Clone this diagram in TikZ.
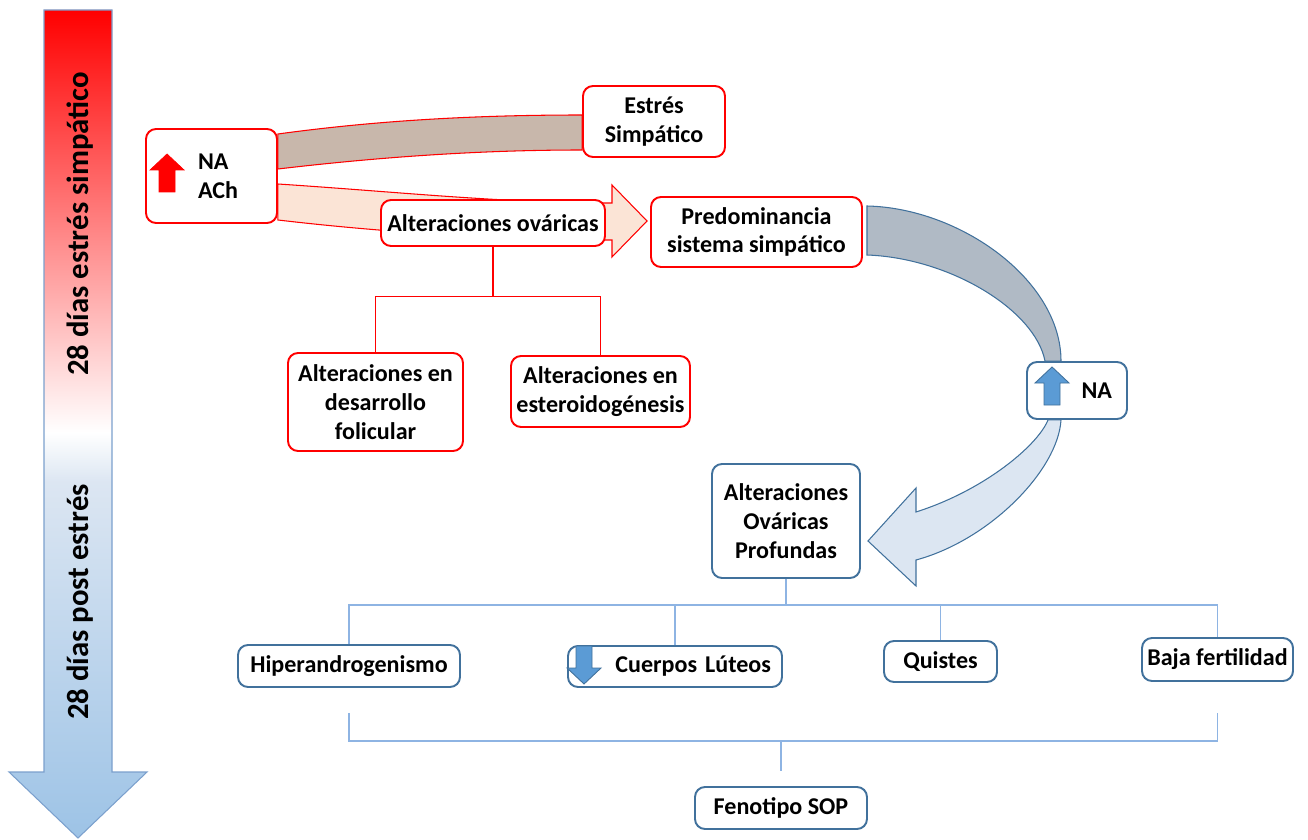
\documentclass[tikz,border=0pt]{standalone}
\usepackage{fontspec}
\setmainfont{Carlito}
\usetikzlibrary{calc, backgrounds}
\usepackage{xcolor}
\definecolor{AccentR}{HTML}{FF0000}
\definecolor{AccentB}{HTML}{41719C}
\definecolor{LineB}{HTML}{8EB4E3}
\definecolor{IconB}{HTML}{5B9BD5}
\definecolor{BandBrown}{HTML}{C8B7AB}
\definecolor{BandPink}{HTML}{FBE4D6}
\definecolor{BandGrey}{HTML}{B0BAC5}
\definecolor{BandSky}{HTML}{DCE6F2}
\definecolor{BarBlue}{HTML}{9DC3E6}
\definecolor{BarPale}{HTML}{DCE6F2}
\definecolor{BarEdge}{HTML}{7BA0CD}
\pgfdeclareverticalshading{stressbar}{100bp}{color(0bp)=(BarBlue); color(25bp)=(BarBlue);
  color(46.5bp)=(BarPale); color(49.5bp)=(white); color(75bp)=(AccentR); color(100bp)=(AccentR)}
\tikzset{
  rbox/.style={draw=AccentR, line width=1.1pt, rounded corners=2mm, fill=white, align=center,
    inner sep=1pt, font=\fontsize{13.7}{16.4}\selectfont\bfseries},
  bbox/.style={rbox, draw=AccentB},
  rline/.style={draw=AccentR, line width=0.6pt},
  bline/.style={draw=LineB, line width=0.7pt},
  bandr/.style={draw=AccentR, line width=0.6pt},
  bandb/.style={draw=AccentB, line width=0.6pt},
  vlabel/.style={rotate=90, font=\fontsize{17.5}{20}\selectfont\bfseries},
  blockarrow/.pic={\path[pic actions] (0,-16) -- (17,0) -- (8,0) -- (8,22) -- (-8,22) -- (-8,0) -- (-17,0) -- cycle;},
}

\begin{document}
\begin{tikzpicture}[x=0.2mm, y=-0.2mm]
  \useasboundingbox (0,0) rectangle (1308,840);
  \path[shade, shading=stressbar, draw=BarEdge, line width=0.6pt]
    (44,10) -- (112,10) -- (112,772) -- (147,772) -- (78,838) -- (9,772) -- (44,772) -- cycle;
  \node[vlabel] (stress) at (80,224) {28 días estrés simpático};
  \node[vlabel] (post) at (80,602) {28 días post estrés};

  \node[rbox, minimum width=26.2mm, minimum height=18.8mm, align=left, text width=5.4mm] (nach) at (211.5,176) {NA\\ACh};
  \node[rbox, minimum width=28.4mm, minimum height=14.2mm] (estres) at (654,121.5) {Estrés\\Simpático};
  \node[rbox, minimum width=44.8mm, minimum height=9.2mm] (altov) at (493,223) {Alteraciones ováricas};
  \node[rbox, minimum width=42.2mm, minimum height=14mm] (pred) at (756.5,232) {Predominancia\\sistema simpático};
  \node[rbox, minimum width=35mm, minimum height=19.6mm] (folic) at (375.5,402) {Alteraciones en\\desarrollo\\folicular};
  \node[rbox, minimum width=35.8mm, minimum height=14.2mm] (ester) at (600.5,391.5) {Alteraciones en\\esteroidogénesis};
  \node[bbox, minimum width=20mm, minimum height=11.4mm, align=right, text width=14mm] (nabox) at (1077,390.5) {NA};
  \node[bbox, minimum width=29.6mm, minimum height=22.8mm] (aop) at (786,521) {Alteraciones\\Ováricas\\Profundas};
  \node[bbox, minimum width=44.4mm, minimum height=8.4mm] (hiper) at (349,666) {Hiperandrogenismo};
  \node[bbox, minimum width=42.8mm, minimum height=8.2mm, align=right, text width=38.4mm] (cuerpos) at (675,666.5) {Cuerpos Lúteos};
  \node[bbox, minimum width=22.6mm, minimum height=8.2mm] (quistes) at (940.5,661.5) {Quistes};
  \node[bbox, minimum width=30.2mm, minimum height=8.6mm] (baja) at (1217.5,659.5) {Baja fertilidad};
  \node[bbox, minimum width=34.4mm, minimum height=8.4mm] (fen) at (781,808) {Fenotipo SOP};

  \pic[fill=AccentR, draw=AccentR] at ($(nach.west)+(22,-6)$) {blockarrow};
  \pic[fill=IconB, draw=AccentB, line width=0.5pt] at ($(nabox.west)+(26,-7.5)$) {blockarrow};
  \pic[fill=IconB, draw=AccentB, line width=0.5pt, rotate=180] at ($(cuerpos.west)+(17,1.5)$) {blockarrow};

  \begin{scope}[on background layer]
    \draw[bandr, fill=BandBrown] ($(nach.east)+(0,-42)$) .. controls (380,120) and (480,115) .. ($(estres.west)+(0,-6.5)$)
      -- ($(estres.west)+(0,28.5)$) .. controls (480,150) and (380,157) .. ($(nach.east)+(0,-7)$) -- cycle;
    \draw[bandr, fill=BandPink] ($(nach.east)+(0,8)$) .. controls (400,192) and (500,203) .. (612,203)
      -- (612,185) -- ($(pred.west)+(-3,-11)$) -- (612,257) -- (612,240)
      .. controls (500,240) and (380,232) .. ($(nach.east)+(0,44)$) -- cycle;
    \draw[bandb, fill=BandGrey] ($(pred.east)+(4,-26)$) .. controls (960,208) and (1061,280) .. ($(nabox.north)+(-16,0)$)
      -- ($(nabox.north)+(-32,0)$) .. controls (1035,310) and (950,258) .. ($(pred.east)+(4,23)$) -- cycle;
    \draw[bandb, fill=BandSky] ($(nabox.south)+(-16,0)$) .. controls (1058,470) and (990,540) .. (916,560)
      -- (916,586) -- ($(aop.east)+(7,20)$) -- (916,488) -- (916,512)
      .. controls (985,490) and (1038,445) .. ($(nabox.south)+(-29,0)$) -- cycle;
  \end{scope}

  \draw[rline] (altov.south) -- ++(0,50) coordinate (rj);
  \draw[rline] (folic.north) |- (rj) -| (ester.north);

  \draw[bline] (aop.south) -- ++(0,26) coordinate (bj);
  \draw[bline] (hiper.north) |- (bj) -| (baja.north);
  \draw[bline] (cuerpos.north) -- (cuerpos.north |- bj);
  \draw[bline] (quistes.north) -- (quistes.north |- bj);

  \coordinate (fj) at ($(fen.north)+(0,-45)$);
  \draw[bline] ($(hiper.south)+(0,25)$) |- (fj) -| ($(baja.south)+(0,31)$);
  \draw[bline] (fj) -- ++(0,30);
\end{tikzpicture}
\end{document}
